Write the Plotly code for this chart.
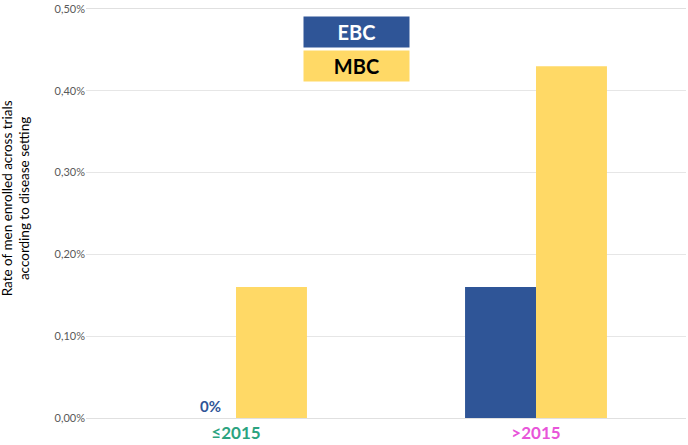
import plotly.graph_objects as go

categories = ["≤2015", ">2015"]
ebc = [0.0, 0.0016]
mbc = [0.0016, 0.0043]
cat_colors = ["#2BA37F", "#E855D9"]
ytick_vals = [0, 0.001, 0.002, 0.003, 0.004, 0.005]
ytick_text = ["0,00%", "0,10%", "0,20%", "0,30%", "0,40%", "0,50%"]
y_title = "Rate of men enrolled across trials<br>according to disease setting"

FONT = "Lato, 'Open Sans', sans-serif"

fig = go.Figure()
fig.add_trace(go.Bar(name="EBC", x=categories, y=ebc, marker_color="#2F5597", marker_line_width=0))
fig.add_trace(go.Bar(name="MBC", x=categories, y=mbc, marker_color="#FFD966", marker_line_width=0))

fig.update_layout(
    width=688, height=445,
    margin=dict(l=86, r=2, t=6, b=24),
    plot_bgcolor="white", paper_bgcolor="white",
    barmode="group", bargap=0.527, bargroupgap=0,
    showlegend=False,
    font=dict(family=FONT, color="#595959"),
    xaxis=dict(
        tickmode="array", tickvals=categories,
        ticktext=[f"<span style='color:{c}'><b>{t}</b></span>" for t, c in zip(categories, cat_colors)],
        tickfont=dict(size=17), showline=True, linecolor="#E0E0E0", linewidth=1, mirror=True,
        ticks="", showgrid=False,
    ),
    yaxis=dict(
        range=[0, 0.005], tickvals=ytick_vals, ticktext=ytick_text,
        tickfont=dict(size=11, color="#595959"), ticklabeloverflow="allow",
        showgrid=True, gridcolor="#E6E6E6", gridwidth=1, zeroline=False,
    ),
)

fig.add_annotation(xref="paper", yref="paper", x=-0.1167, y=0.537, text=y_title, textangle=-90,
                   showarrow=False, xanchor="center", yanchor="middle",
                   font=dict(size=13.5, color="#000000", family=FONT))

fig.add_annotation(x=0, y=ebc[0], xref="x", yref="y", text="<b>0%</b>", showarrow=False,
                   xshift=-26, yshift=12, font=dict(size=15, color="#2F5597", family=FONT))

fig.add_annotation(xref="paper", yref="paper", x=0.451, y=0.982, text="<b>EBC</b>", showarrow=False,
                   bgcolor="#2F5597", width=105, height=30, font=dict(size=20, color="white", family=FONT),
                   xanchor="center", yanchor="top", borderpad=0)
fig.add_annotation(xref="paper", yref="paper", x=0.451, y=0.9, text="<b>MBC</b>", showarrow=False,
                   bgcolor="#FFD966", width=105, height=30, font=dict(size=20, color="black", family=FONT),
                   xanchor="center", yanchor="top", borderpad=0)

fig.write_html("out.html", config={"displayModeBar": False},
               post_script="document.body.style.margin='0';")
